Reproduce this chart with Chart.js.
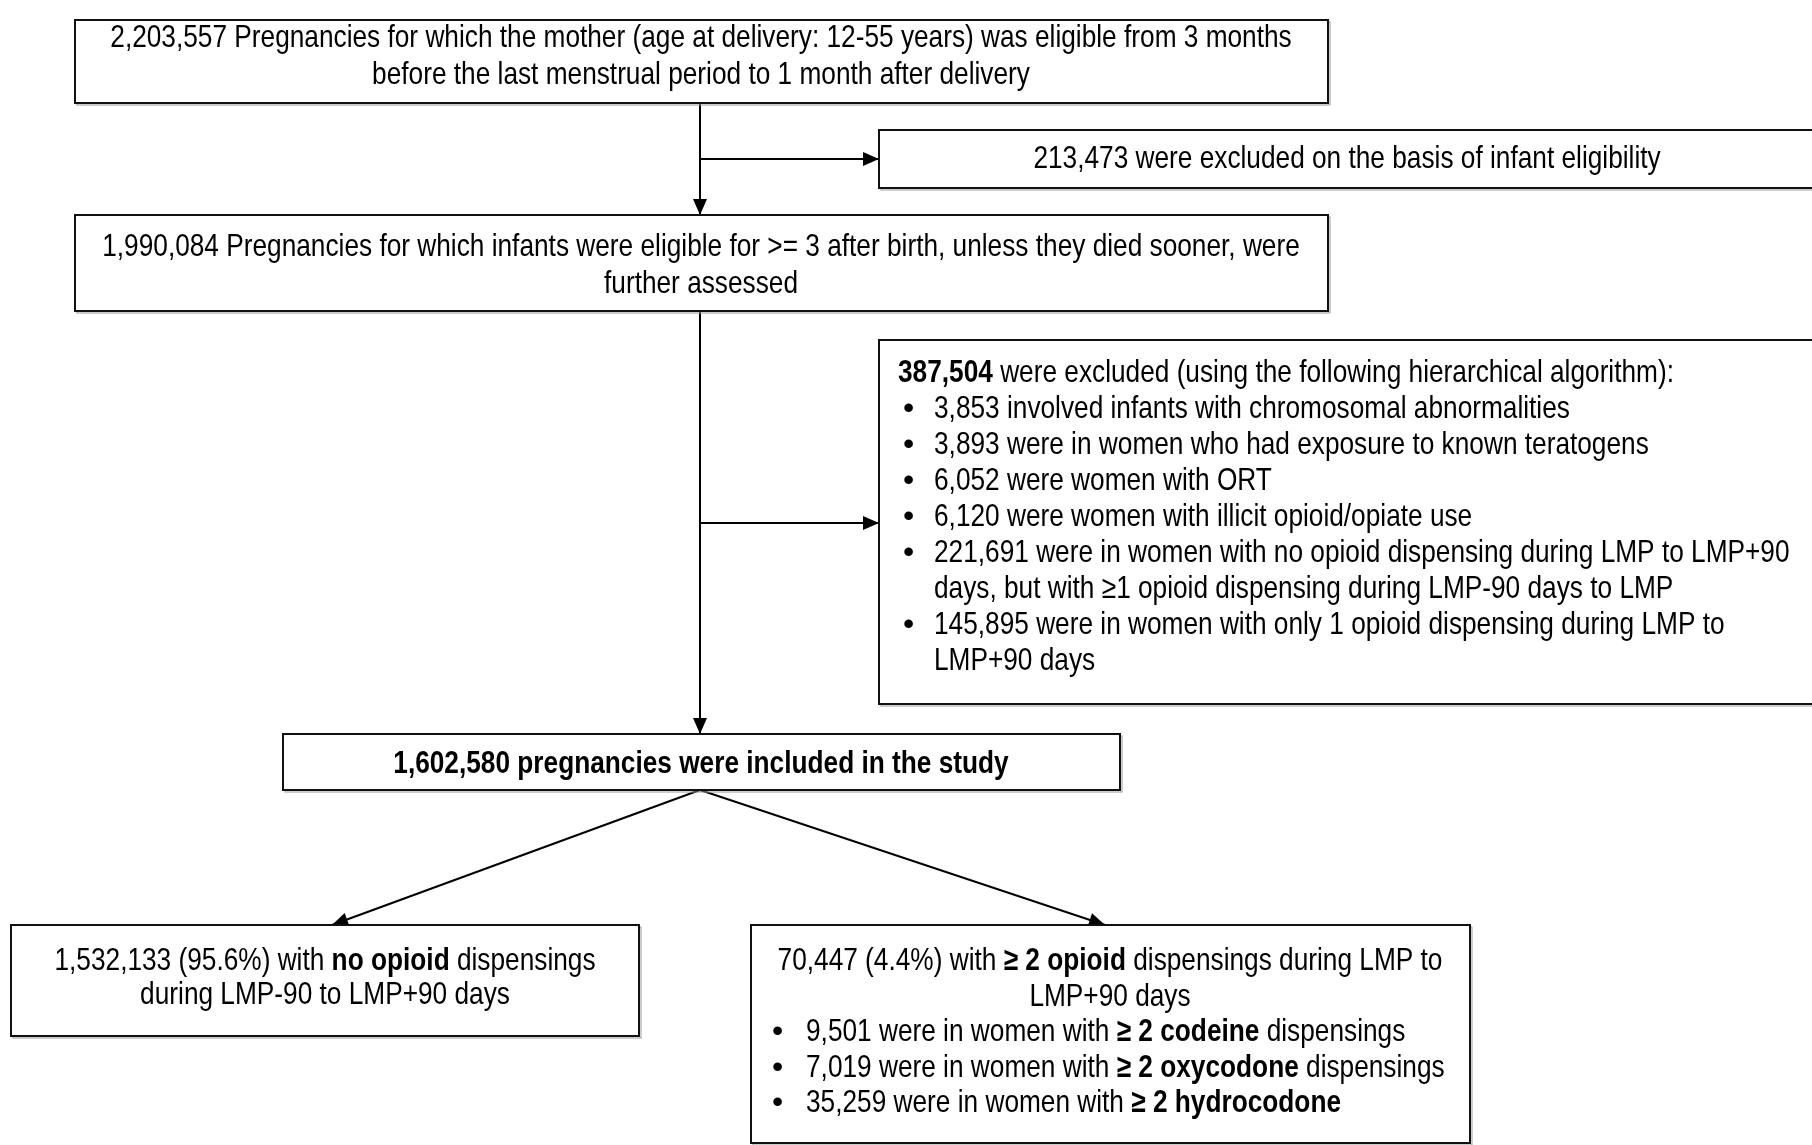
<!DOCTYPE html>
<html>
<head>
<meta charset="utf-8">
<script src="https://cdn.jsdelivr.net/npm/chart.js@4.4.1/dist/chart.umd.min.js"></script>
<style>
  html, body { margin: 0; padding: 0; background: #fff; }
</style>
</head>
<body>
<canvas id="flow_chart" width="1812" height="1145"></canvas>
<script>
// flow counts, top to bottom
const stepNames = ["eligible", "excludedInfant", "assessed", "excludedAlgo", "included", "noOpioid", "opioid"];
const stepCounts = [2203557, 213473, 1990084, 387504, 1602580, 1532133, 70447];
const groupShares = [95.6, 4.4];
const exclusionCounts = [3853, 3893, 6052, 6120, 221691, 145895];
const drugNames = ["codeine", "oxycodone", "hydrocodone"];
const drugCounts = [9501, 7019, 35259];

const fmt = (n) => n.toLocaleString("en-US");
const T = (text, bold) => ({ text: text, bold: !!bold });

// text of every box, built from the arrays
const boxText = {
  eligible: [
    { segs: [T(fmt(stepCounts[0]) + " Pregnancies for which the mother (age at delivery: 12-55 years) was eligible from 3 months")] },
    { segs: [T("before the last menstrual period to 1 month after delivery")] },
  ],
  excludedInfant: [{ segs: [T(fmt(stepCounts[1]) + " were excluded on the basis of infant eligibility")] }],
  assessed: [
    { segs: [T(fmt(stepCounts[2]) + " Pregnancies for which infants were eligible for >= 3 after birth, unless they died sooner, were")] },
    { segs: [T("further assessed")] },
  ],
  excludedAlgo: [
    { segs: [T(fmt(stepCounts[3]), true), T(" were excluded (using the following hierarchical algorithm):")] },
    { bullet: true, segs: [T(fmt(exclusionCounts[0]) + " involved infants with chromosomal abnormalities")] },
    { bullet: true, segs: [T(fmt(exclusionCounts[1]) + " were in women who had exposure to known teratogens")] },
    { bullet: true, segs: [T(fmt(exclusionCounts[2]) + " were women with ORT")] },
    { bullet: true, segs: [T(fmt(exclusionCounts[3]) + " were women with illicit opioid/opiate use")] },
    { bullet: true, segs: [T(fmt(exclusionCounts[4]) + " were in women with no opioid dispensing during LMP to LMP+90")] },
    { indent: true, segs: [T("days, but with \u22651 opioid dispensing during LMP-90 days to LMP")] },
    { bullet: true, segs: [T(fmt(exclusionCounts[5]) + " were in women with only 1 opioid dispensing during LMP to")] },
    { indent: true, segs: [T("LMP+90 days")] },
  ],
  included: [{ segs: [T(fmt(stepCounts[4]) + " pregnancies were included in the study", true)] }],
  noOpioid: [
    { segs: [T(fmt(stepCounts[5]) + " (" + groupShares[0] + "%) with "), T("no opioid", true), T(" dispensings")] },
    { segs: [T("during LMP-90 to LMP+90 days")] },
  ],
  opioid: [
    { segs: [T(fmt(stepCounts[6]) + " (" + groupShares[1] + "%) with "), T("\u2265 2 opioid", true), T(" dispensings during LMP to")] },
    { segs: [T("LMP+90 days")] },
    { bullet: true, segs: [T(fmt(drugCounts[0]) + " were in women with "), T("\u2265 2 " + drugNames[0], true), T(" dispensings")] },
    { bullet: true, segs: [T(fmt(drugCounts[1]) + " were in women with "), T("\u2265 2 " + drugNames[1], true), T(" dispensings")] },
    { bullet: true, segs: [T(fmt(drugCounts[2]) + " were in women with "), T("\u2265 2 " + drugNames[2], true)] },
  ],
};

// layout (page units = pixels of the 1812x1145 axes)
const boxLayout = {
  eligible:       { x0: 75,  x1: 1328, y0: 20,  y1: 103,  align: "center", tx: 701,  base: 47,  step: 37 },
  excludedInfant: { x0: 879, x1: 1816, y0: 130, y1: 188,  align: "center", tx: 1347, base: 168, step: 37 },
  assessed:       { x0: 75,  x1: 1328, y0: 215, y1: 311,  align: "center", tx: 701,  base: 256, step: 37 },
  excludedAlgo:   { x0: 879, x1: 1816, y0: 340, y1: 704,  align: "left",   tx: 898,  base: 382, step: 36, bx: 903, ix: 934 },
  included:       { x0: 283, x1: 1120, y0: 734, y1: 790,  align: "center", tx: 701,  base: 773, step: 37 },
  noOpioid:       { x0: 11,  x1: 639,  y0: 925, y1: 1036, align: "center", tx: 325,  base: 970, step: 34, },
  opioid:         { x0: 751, x1: 1470, y0: 925, y1: 1143, align: "center", tx: 1110, base: 970, step: 35.5, bx: 772, ix: 806 },
};

const spineX = 700;
const connectors = [
  { from: [spineX, 103], to: [spineX, 215] },
  { from: [spineX, 159], to: [879, 159] },
  { from: [spineX, 311], to: [spineX, 734] },
  { from: [spineX, 523], to: [879, 523] },
  { from: [spineX, 790], to: [332, 925] },
  { from: [spineX, 790], to: [1105, 925] },
];

const fontFamily = "'Liberation Sans', Arial, sans-serif";
const fontSize = 32;
const squeeze = 0.82; // narrow face look

function setFont(ctx, bold) {
  ctx.font = (bold ? "bold " : "") + fontSize + "px " + fontFamily;
}

function drawSegs(ctx, segs, x, y, align) {
  let total = 0;
  segs.forEach(function (s) {
    setFont(ctx, s.bold);
    total += ctx.measureText(s.text).width;
  });
  const start = align === "center" ? x - (total * squeeze) / 2 : x;
  ctx.save();
  ctx.translate(start, y);
  ctx.scale(squeeze, 1);
  let cx = 0;
  segs.forEach(function (s) {
    setFont(ctx, s.bold);
    ctx.fillText(s.text, cx, 0);
    cx += ctx.measureText(s.text).width;
  });
  ctx.restore();
}

const flowPlugin = {
  id: "flowBoxes",
  afterDatasetsDraw(chart) {
    const ctx = chart.ctx;
    const sx = chart.scales.x;
    const sy = chart.scales.y;
    const px = (v) => sx.getPixelForValue(v);
    const py = (v) => sy.getPixelForValue(v);

    // arrow heads
    ctx.save();
    ctx.fillStyle = "#000";
    connectors.forEach(function (c) {
      const x1 = px(c.to[0]), y1 = py(c.to[1]);
      const ang = Math.atan2(y1 - py(c.from[1]), x1 - px(c.from[0]));
      const len = 16, half = 7;
      ctx.beginPath();
      ctx.moveTo(x1, y1);
      ctx.lineTo(x1 - len * Math.cos(ang) + half * Math.sin(ang), y1 - len * Math.sin(ang) - half * Math.cos(ang));
      ctx.lineTo(x1 - len * Math.cos(ang) - half * Math.sin(ang), y1 - len * Math.sin(ang) + half * Math.cos(ang));
      ctx.closePath();
      ctx.fill();
    });
    ctx.restore();

    // boxes
    stepNames.forEach(function (name) {
      const b = boxLayout[name];
      const x0 = px(b.x0), x1 = px(b.x1), y0 = py(b.y0), y1 = py(b.y1);
      ctx.save();
      ctx.strokeStyle = "#9a9a9a";
      ctx.lineWidth = 1;
      ctx.strokeRect(x0 + 2, y0 + 2, x1 - x0, y1 - y0);
      ctx.fillStyle = "#fff";
      ctx.fillRect(x0, y0, x1 - x0, y1 - y0);
      ctx.strokeStyle = "#111";
      ctx.lineWidth = 2;
      ctx.strokeRect(x0, y0, x1 - x0, y1 - y0);

      ctx.fillStyle = "#000";
      ctx.textBaseline = "alphabetic";
      ctx.textAlign = "left";
      boxText[name].forEach(function (line, i) {
        const y = py(b.base + i * b.step);
        if (line.bullet) {
          setFont(ctx, false);
          ctx.fillText("\u2022", px(b.bx), y);
          drawSegs(ctx, line.segs, px(b.ix), y, "left");
        } else if (line.indent) {
          drawSegs(ctx, line.segs, px(b.ix), y, "left");
        } else {
          drawSegs(ctx, line.segs, px(b.tx), y, b.align);
        }
      });
      ctx.restore();
    });
  },
};

const flowChart = new Chart(document.getElementById("flow_chart"), {
  type: "scatter",
  data: {
    datasets: connectors.map(function (c) {
      return {
        data: [{ x: c.from[0], y: c.from[1] }, { x: c.to[0], y: c.to[1] }],
        showLine: true,
        borderColor: "#000",
        borderWidth: 2,
        pointRadius: 0,
        fill: false,
        clip: false,
      };
    }),
  },
  options: {
    responsive: false,
    animation: false,
    events: [],
    layout: { padding: 0 },
    plugins: {
      legend: { display: false },
      tooltip: { enabled: false },
    },
    scales: {
      x: { type: "linear", min: 0, max: 1812, display: false },
      y: { type: "linear", min: 0, max: 1145, reverse: true, display: false },
    },
  },
  plugins: [flowPlugin],
});
</script>
</body>
</html>
